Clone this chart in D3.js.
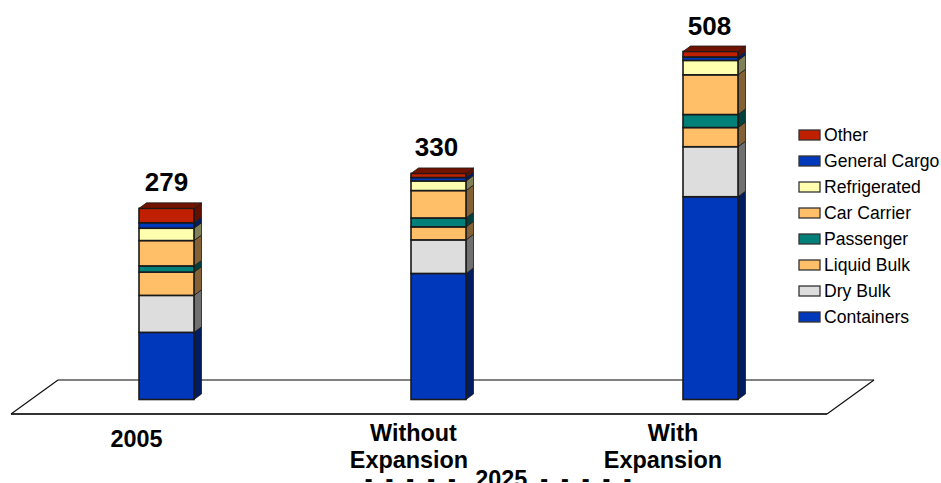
<!DOCTYPE html>
<html>
<head>
<meta charset="utf-8">
<script src="https://cdn.jsdelivr.net/npm/d3@7"></script>
<style>
  html, body { margin: 0; padding: 0; background: #fff; overflow: hidden; }
  svg { display: block; font-family: "Liberation Sans", Arial, sans-serif; }
</style>
</head>
<body>
<div id="chart"></div>
<script>
// Port cargo throughput by vessel type, stacked bottom to top
const categories = ["2005", "Without Expansion", "With Expansion"];
const categoryLines = [["2005"], ["Without", "Expansion"], ["With", "Expansion"]];
const totals = [279, 330, 508];
const seriesNames = ["Containers", "Dry Bulk", "Liquid Bulk", "Passenger", "Car Carrier", "Refrigerated", "General Cargo", "Other"];
const containers = [98, 184, 296];
const dryBulk = [54, 49, 73];
const liquidBulk = [34, 19, 28];
const passenger = [9, 13, 19];
const carCarrier = [37, 40, 58];
const refrigerated = [18, 14, 21];
const generalCargo = [8, 5, 5];
const other = [21, 6, 8];
const seriesValues = [containers, dryBulk, liquidBulk, passenger, carCarrier, refrigerated, generalCargo, other];
const seriesColors = ["#0038BC", "#DDDDDD", "#FFBF69", "#008078", "#FFBF69", "#FFFFAF", "#0038BC", "#C02000"];
const groupLabel = "-  -  -  -  -   2025  -  -  -  -  -";

const width = 941, height = 483;
const depthX = 7.5, depthY = 5.5;
const barWidth = 55;

// Caption and total placement relative to each column's centre
const captionShift = [[-30], [-25, -29.5], [-37.5, -47.5]];
const totalShift = [0, -2, -1];
const totalGap = [17, 17, 17];

const svg = d3.select("#chart").append("svg").attr("width", width).attr("height", height);

const x = d3.scalePoint().domain(categories).range([166.5, 710.5]);
const y = d3.scaleLinear().domain([0, 508]).range([399.5, 51.5]);

// Ground plane under the columns
const floor = svg.append("g").attr("fill", "none");
floor.append("path").attr("d", "M11,414 L58,380 L874,380 L827,414 Z").attr("fill", "#fff");
floor.append("path").attr("d", "M58,380 L874,380").attr("stroke", "#808080").attr("stroke-width", 2);
floor.append("path").attr("d", "M11,414 L827,414").attr("stroke", "#333").attr("stroke-width", 2);
floor.append("path").attr("d", "M58,380 L11,414 M874,380 L827,414").attr("stroke", "#111").attr("stroke-width", 1.2);

// Stack each category and give every segment front, side and top faces
const rows = categories.map((c, i) => {
  let acc = 0;
  return seriesNames.map((name, s) => {
    const v = seriesValues[s][i];
    const seg = { cat: c, s, y0: acc, y1: acc + v };
    acc += v;
    return seg;
  });
});

const shade = (col, k) => d3.color(col).darker(k).formatHex();
const edge = "#1a1a1a";

const bars = svg.selectAll("g.column").data(rows).join("g").attr("class", "column");

bars.each(function (segments) {
  const g = d3.select(this);
  const left = x(segments[0].cat) - barWidth / 2;
  const right = left + barWidth;
  segments.forEach(seg => {
    const top = y(seg.y1), bottom = y(seg.y0);
    const col = seriesColors[seg.s];
    g.append("path")
      .attr("d", `M${right},${top} L${right + depthX},${top - depthY} L${right + depthX},${bottom - depthY} L${right},${bottom} Z`)
      .attr("fill", shade(col, 1.9))
      .attr("stroke", edge).attr("stroke-width", 0.8).attr("stroke-linejoin", "round");
    g.append("rect")
      .attr("x", left).attr("y", top).attr("width", barWidth).attr("height", bottom - top)
      .attr("fill", col)
      .attr("stroke", edge).attr("stroke-width", 1.6);
  });
  const last = segments[segments.length - 1];
  const t = y(last.y1);
  g.append("path")
    .attr("d", `M${left},${t} L${left + depthX},${t - depthY} L${right + depthX},${t - depthY} L${right},${t} Z`)
    .attr("fill", shade(seriesColors[last.s], 1.5))
    .attr("stroke", edge).attr("stroke-width", 0.8).attr("stroke-linejoin", "round");
});

// Totals above the columns
svg.selectAll("text.total").data(totals).join("text")
  .attr("class", "total")
  .attr("x", (d, i) => x(categories[i]) + totalShift[i])
  .attr("y", (d, i) => y(d3.sum(seriesValues, s => s[i])) - totalGap[i])
  .attr("text-anchor", "middle")
  .attr("font-size", 26).attr("font-weight", "bold").attr("fill", "#000")
  .text(d => d);

// Category captions under the ground plane
categoryLines.forEach((lines, i) => {
  const t = svg.append("text")
    .attr("text-anchor", "middle")
    .attr("font-size", 23.4).attr("font-weight", "bold").attr("fill", "#000");
  const y0 = lines.length === 1 ? 447 : 440.5;
  lines.forEach((line, j) => {
    t.append("tspan")
      .attr("x", x(categories[i]) + captionShift[i][j])
      .attr("y", y0 + j * 27.5)
      .text(line);
  });
});

svg.append("text")
  .attr("x", 498).attr("y", 487)
  .attr("text-anchor", "middle")
  .attr("font-size", 23.4).attr("font-weight", "bold").attr("fill", "#000")
  .style("white-space", "pre")
  .text(groupLabel);

// Legend lists the series top of stack first
const legendOrder = seriesNames.slice().reverse();
const legendY = d3.scalePoint().domain(legendOrder).range([135, 317]);
const legend = svg.selectAll("g.key").data(legendOrder).join("g")
  .attr("class", "key")
  .attr("transform", d => `translate(799,${legendY(d)})`);
legend.append("rect")
  .attr("x", 0).attr("y", -5).attr("width", 21).attr("height", 10)
  .attr("fill", d => seriesColors[seriesNames.indexOf(d)])
  .attr("stroke", "#333").attr("stroke-width", 1.3);
legend.append("text")
  .attr("x", 25).attr("y", 6)
  .attr("font-size", 17.6).attr("fill", "#000")
  .text(d => d);
</script>
</body>
</html>
